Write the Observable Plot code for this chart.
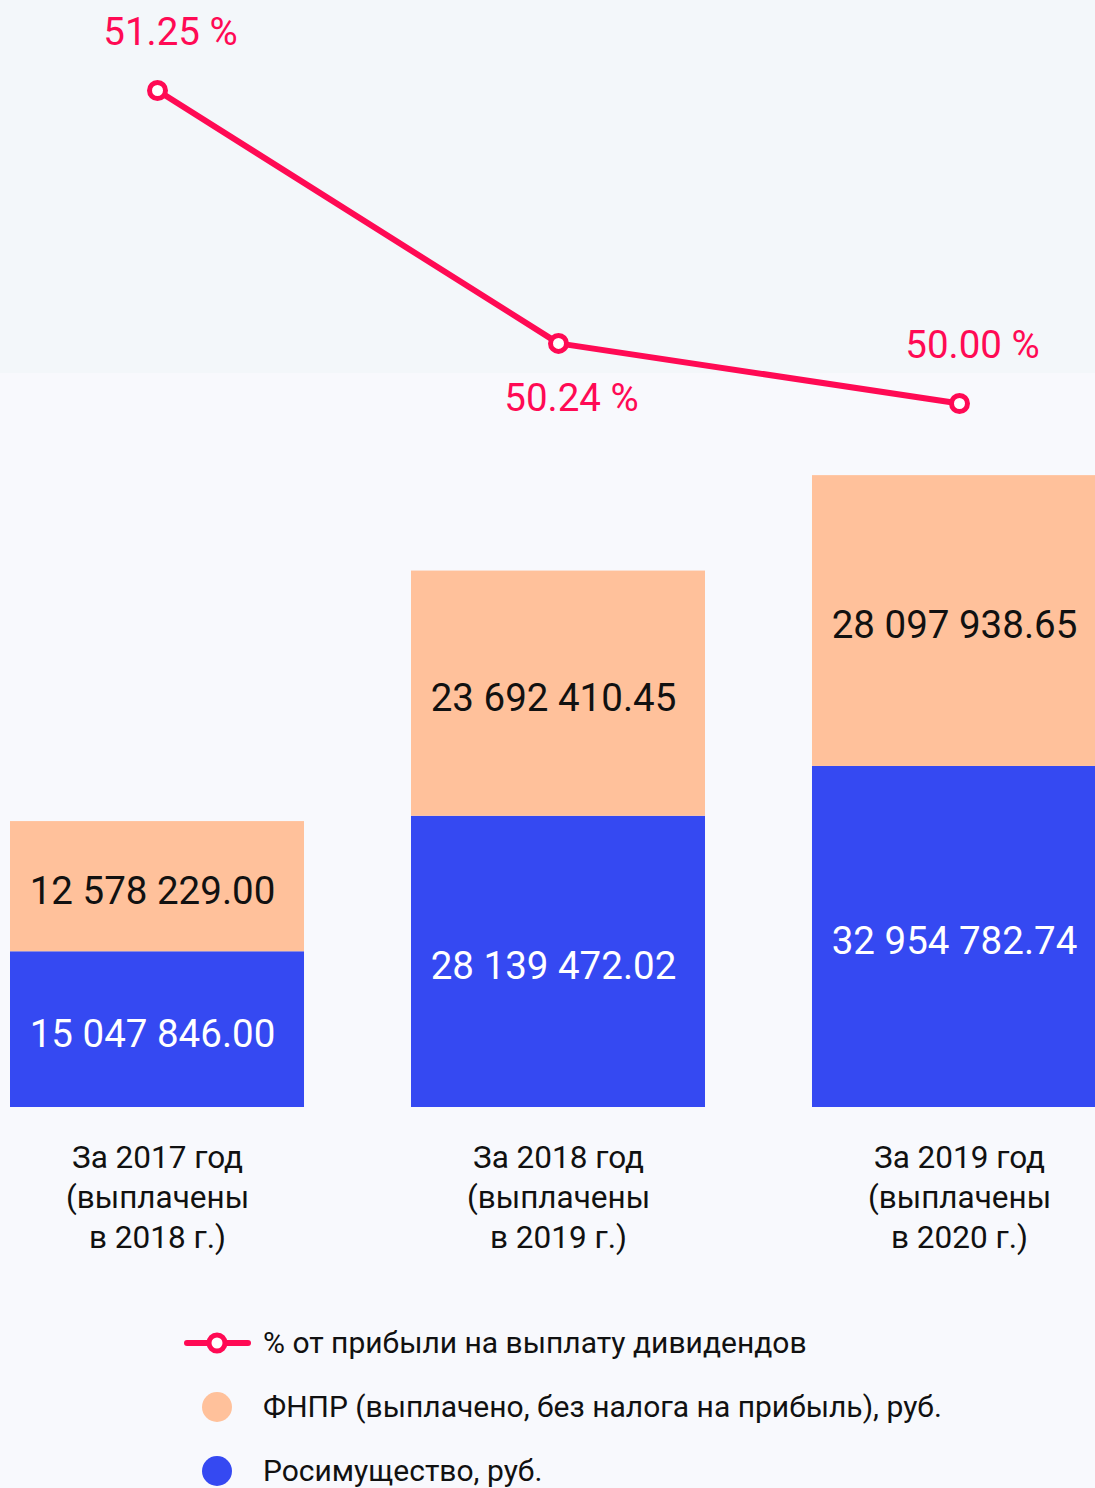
<!DOCTYPE html>
<html><head><meta charset="utf-8">
<script src="https://cdn.jsdelivr.net/npm/d3@7"></script>
<script src="https://cdn.jsdelivr.net/npm/@observablehq/plot@0.6"></script>
<style>
body{margin:0;background:#f8f9fd;font-family:Roboto,sans-serif;}
#wrap{position:relative;width:1095px;height:1488px;overflow:hidden;background:#f8f9fd;}
#wrap svg{max-width:none !important;}
#topband{position:absolute;left:0;top:0;width:1095px;height:373px;background:#f3f7fa;}
.layer{position:absolute;left:0;top:0;width:1106px;}
.leg{position:absolute;left:0;width:1095px;height:40px;}
.leg .t{position:absolute;left:263px;top:0;line-height:40px;font-size:30px;color:#111;white-space:nowrap;}
</style></head>
<body>
<div id="wrap">
  <div id="topband"></div>
  <div id="bars" class="layer"></div>
  <div id="line" class="layer"></div>
  <div id="legend" class="layer"></div>
</div>
<script>
const categories = ["За 2017 год\n(выплачены\nв 2018 г.)", "За 2018 год\n(выплачены\nв 2019 г.)", "За 2019 год\n(выплачены\nв 2020 г.)"];
const seriesNames = ["Росимущество, руб.", "ФНПР (выплачено, без налога на прибыль), руб."];
const rosimValues = [15047846.00, 28139472.02, 32954782.74];
const fnprValues = [12578229.00, 23692410.45, 28097938.65];
const percentValues = [51.25, 50.24, 50.00];
const lineName = "% от прибыли на выплату дивидендов";

const colors = {blue: "#3549f2", peach: "#ffc19b", red: "#ff0a54"};

const stackData = [];
categories.forEach((c, i) => {
  stackData.push({cat: c, series: seriesNames[0], value: rosimValues[i]});
  stackData.push({cat: c, series: seriesNames[1], value: fnprValues[i]});
});
const lineData = categories.map((c, i) => ({cat: c, pct: percentValues[i], idx: i}));

const fmtNum = v => d3.format(",.2f")(v).replace(/,/g, " ");
const fmtPct = v => d3.format(".2f")(v) + " %";

const xOpts = {type: "band", domain: categories, paddingInner: 0.2668, paddingOuter: 0, round: false, axis: null};
const svgStyle = {background: "transparent", fontFamily: "Roboto, sans-serif", overflow: "visible", maxWidth: "none"};

const bars = Plot.plot({
  width: 1106, height: 1290,
  marginLeft: 10, marginRight: 0, marginTop: 0, marginBottom: 183,
  style: svgStyle,
  x: xOpts,
  y: {domain: [0, 106.96e6], axis: null},
  color: {domain: seriesNames, range: [colors.blue, colors.peach]},
  marks: [
    Plot.barY(stackData, Plot.stackY({x: "cat", y: "value", fill: "series"})),
    Plot.text(stackData, Plot.filter(d => d.series === seriesNames[0], Plot.stackY({x: "cat", y: "value", z: "series", text: d => fmtNum(d.value), fill: "white", fontSize: 38.5, dx: -5, dy: 5}))),
    Plot.text(stackData, Plot.filter(d => d.series === seriesNames[1], Plot.stackY({x: "cat", y: "value", z: "series", text: d => fmtNum(d.value), fill: "#111", fontSize: 38.5, dx: -5, dy: 5}))),
    Plot.text(categories, {x: d => d, text: d => d, frameAnchor: "bottom", lineAnchor: "top", dy: 32, fontSize: 31.5, lineHeight: 1.27, fill: "#111"})
  ]
});
document.getElementById("bars").appendChild(bars);

const line = Plot.plot({
  width: 1106, height: 500,
  marginLeft: 10, marginRight: 0, marginTop: 0, marginBottom: 0,
  style: svgStyle,
  x: xOpts,
  y: {domain: [49.6126, 51.6094], axis: null},
  marks: [
    Plot.line(lineData, {x: "cat", y: "pct", stroke: colors.red, strokeWidth: 6}),
    Plot.dot(lineData, {x: "cat", y: "pct", r: 8, fill: "white", stroke: colors.red, strokeWidth: 5}),
    Plot.text(lineData.filter(d => d.idx !== 1), {x: "cat", y: "pct", text: d => fmtPct(d.pct), dx: 13, dy: -58, fill: colors.red, fontSize: 38.5}),
    Plot.text(lineData.filter(d => d.idx === 1), {x: "cat", y: "pct", text: d => fmtPct(d.pct), dx: 13, dy: 55, fill: colors.red, fontSize: 38.5})
  ]
});
document.getElementById("line").appendChild(line);

// legend
const legend = document.getElementById("legend");
const items = [
  {label: lineName, kind: "line", color: colors.red, y: 1343},
  {label: seriesNames[1], kind: "dot", color: colors.peach, y: 1407},
  {label: seriesNames[0], kind: "dot", color: colors.blue, y: 1471}
];
items.forEach(it => {
  const row = document.createElement("div");
  row.className = "leg";
  row.style.top = (it.y - 20) + "px";
  const svg = it.kind === "line"
    ? `<svg width="80" height="40" style="position:absolute;left:180px;top:0"><line x1="7" y1="20" x2="68" y2="20" stroke="${it.color}" stroke-width="6" stroke-linecap="round"/><circle cx="37" cy="20" r="8" fill="white" stroke="${it.color}" stroke-width="5"/></svg>`
    : `<svg width="80" height="40" style="position:absolute;left:180px;top:0"><circle cx="37" cy="20" r="15" fill="${it.color}"/></svg>`;
  row.innerHTML = svg + `<span class="t"></span>`;
  row.querySelector(".t").textContent = it.label;
  legend.appendChild(row);
});
</script>
</body></html>
